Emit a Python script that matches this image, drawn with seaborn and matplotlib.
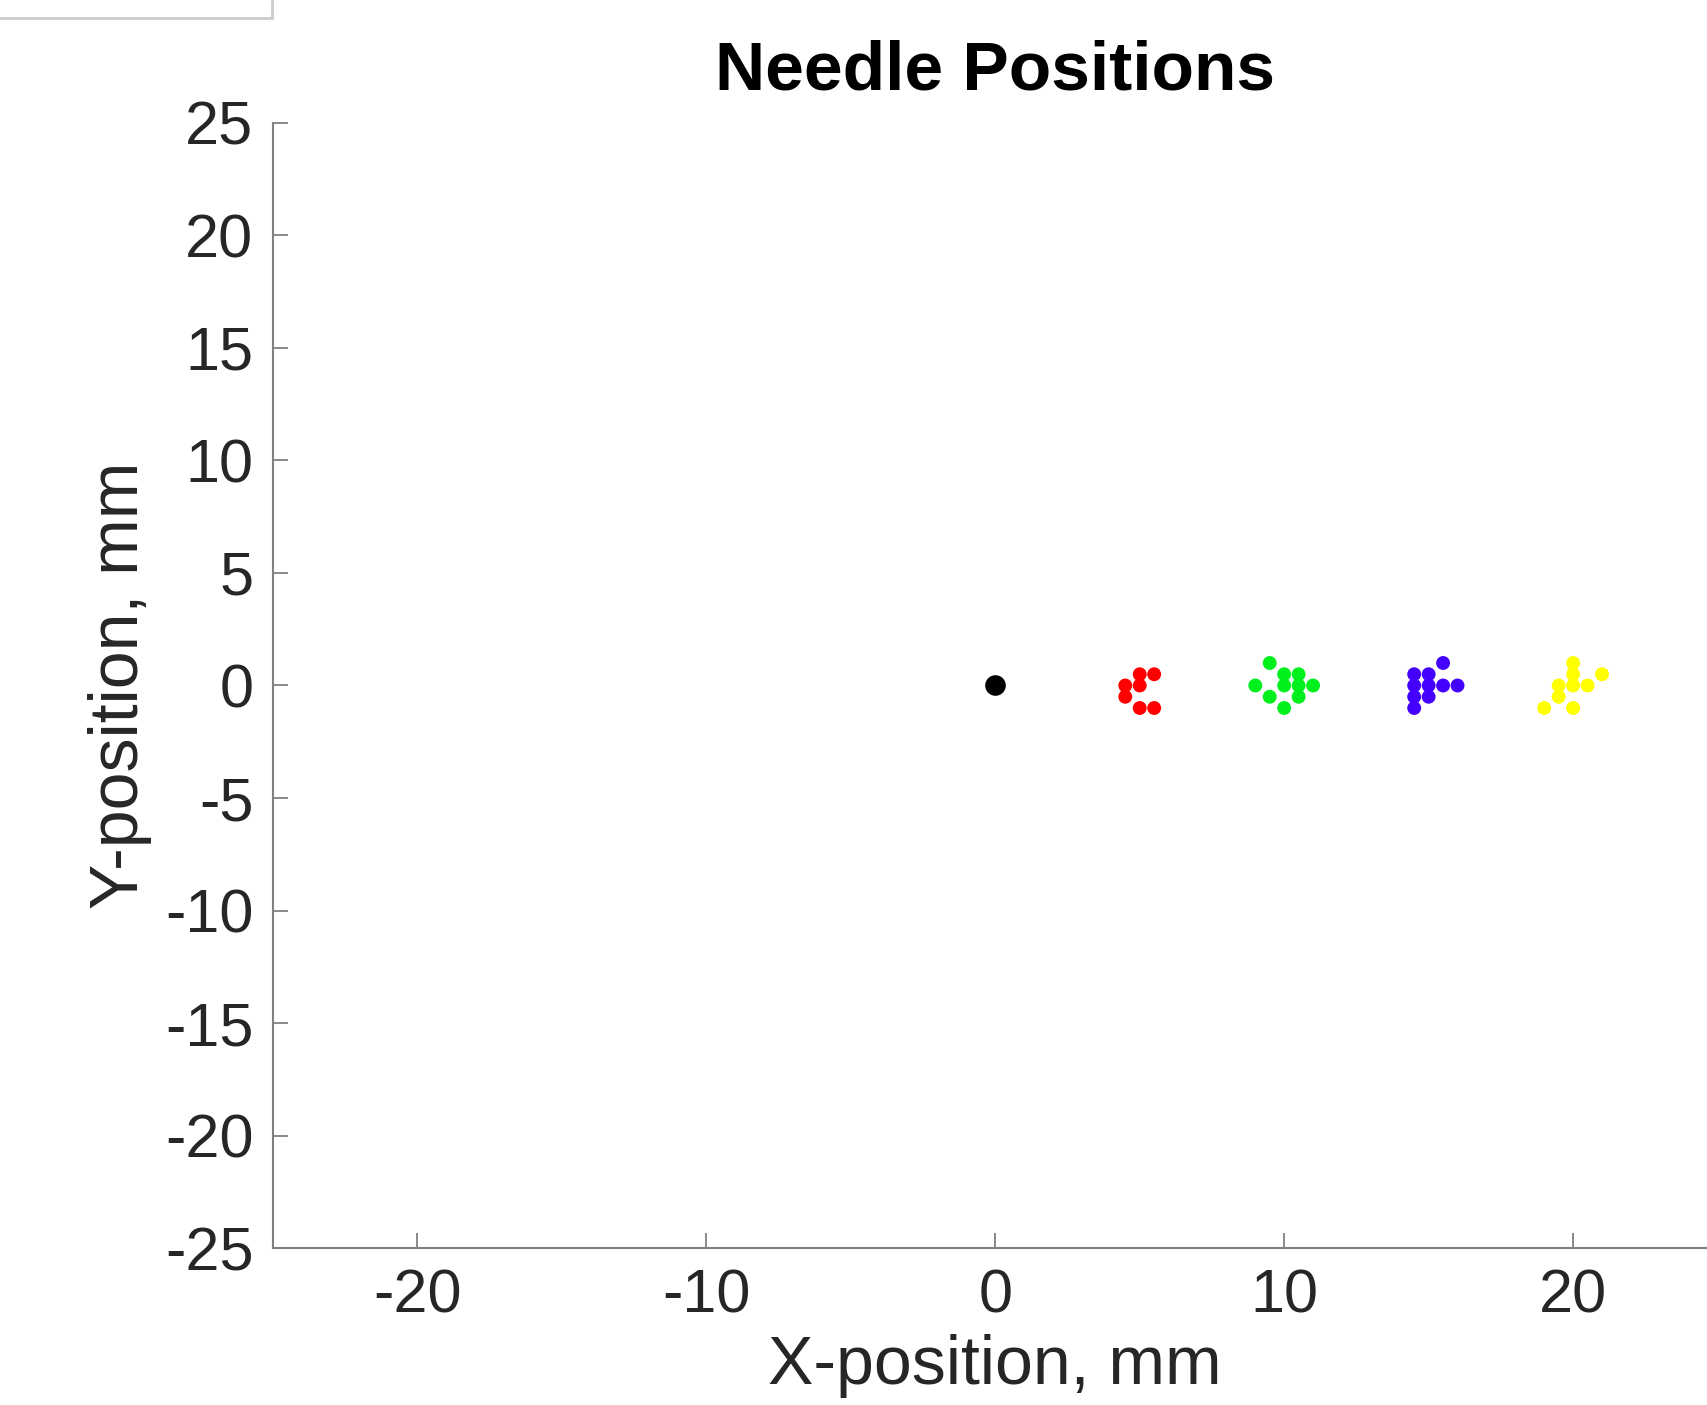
import pandas as pd
import seaborn as sns
import matplotlib.pyplot as plt
from matplotlib.lines import Line2D

# Needle tip positions in mm
origin_x = [0]
origin_y = [0]
red_x = [5, 5.5, 4.5, 5, 4.5, 5, 5.5]
red_y = [0.5, 0.5, 0, 0, -0.5, -1, -1]
green_x = [9.5, 10, 10.5, 9, 10, 10.5, 11, 9.5, 10.5, 10]
green_y = [1, 0.5, 0.5, 0, 0, 0, 0, -0.5, -0.5, -1]
blue_x = [15.5, 14.5, 15, 14.5, 15, 15.5, 16, 14.5, 15, 14.5]
blue_y = [1, 0.5, 0.5, 0, 0, 0, 0, -0.5, -0.5, -1]
yellow_x = [20, 20, 21, 19.5, 20, 20.5, 19.5, 19, 20]
yellow_y = [1, 0.5, 0.5, 0, 0, 0, -0.5, -1, -1]
group_names = ['red', 'green', 'blue', 'yellow']
group_colors = ['#ff0000', '#00f01e', '#4400ff', '#ffff00']
x_ticks = [-20, -10, 0, 10, 20]
y_ticks = [-25, -20, -15, -10, -5, 0, 5, 10, 15, 20, 25]

sns.set_style("ticks")
plt.rcParams['font.family'] = ['Liberation Sans', 'DejaVu Sans']
plt.rcParams['axes.unicode_minus'] = False

df = pd.concat([
    pd.DataFrame({'x': red_x, 'y': red_y, 'group': 'red'}),
    pd.DataFrame({'x': green_x, 'y': green_y, 'group': 'green'}),
    pd.DataFrame({'x': blue_x, 'y': blue_y, 'group': 'blue'}),
    pd.DataFrame({'x': yellow_x, 'y': yellow_y, 'group': 'yellow'}),
], ignore_index=True)

fig = plt.figure(figsize=(17.08, 14.05), dpi=100)
ax = fig.add_axes([0.1598, 0.1117, 0.8458, 0.8008])

sns.scatterplot(data=df, x='x', y='y', hue='group', hue_order=group_names,
                palette=group_colors, s=100, linewidth=0, legend=False, ax=ax)
sns.scatterplot(x=origin_x, y=origin_y, color='black', s=220, linewidth=0, ax=ax)

ax.set_xlim(-25, 25)
ax.set_ylim(-25, 25)
ax.set_xticks(x_ticks)
ax.set_yticks(y_ticks)
ax.tick_params(direction='in', length=11, width=1.3, color='#808080',
               labelsize=44, labelcolor='#262626')
ax.tick_params(axis='x', pad=15)
ax.tick_params(axis='y', pad=14)
for side in ['top', 'right']:
    ax.spines[side].set_visible(False)
for side in ['left', 'bottom']:
    ax.spines[side].set_color('#808080')
    ax.spines[side].set_linewidth(1.5)

ax.set_xlabel('X-position, mm', fontsize=49, color='#262626', labelpad=6)
ax.set_ylabel('Y-position, mm', fontsize=49, color='#262626', labelpad=9)
ax.set_title('Needle Positions', fontsize=50, fontweight='bold',
             color='black', pad=24)

# edge of a box cut off at the top-left corner
fig.add_artist(Line2D([0, 272 / 1708], [1 - 18 / 1405, 1 - 18 / 1405],
                      color='#cccccc', linewidth=2))
fig.add_artist(Line2D([272 / 1708, 272 / 1708], [1, 1 - 18 / 1405],
                      color='#cccccc', linewidth=2))

plt.savefig("out.png", dpi=100)
